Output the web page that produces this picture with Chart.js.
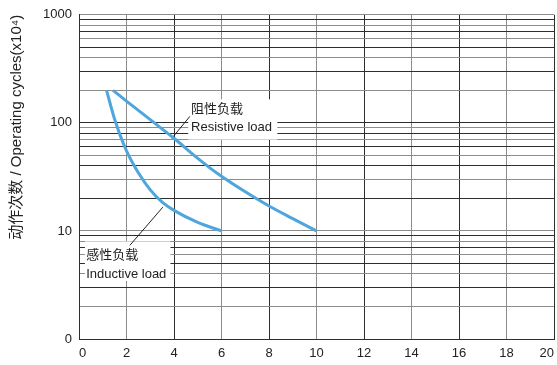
<!DOCTYPE html>
<html>
<head>
<meta charset="utf-8">
<script src="https://cdn.jsdelivr.net/npm/chart.js@4.4.1/dist/chart.umd.min.js"></script>
<style>
  html, body { margin: 0; padding: 0; background: #fff; }
  #wrap { width: 557px; height: 365px; }
</style>
</head>
<body>
<div id="wrap"><canvas id="lifeChart" width="557" height="365"></canvas></div>
<script>
// Electrical life curves
const resistiveX = [1.43, 2, 3, 4, 5, 6, 7, 8, 9, 10];
const resistiveY = [200, 159, 107, 72, 47, 32, 23, 17, 13, 10];
const inductiveX = [1.16, 1.5, 2, 2.5, 3, 3.5, 4, 5, 6];
const inductiveY = [200, 108, 55, 34.5, 24, 18.5, 15.5, 12, 10];

// axis ticks
const xTicks = [0, 2, 4, 6, 8, 10, 12, 14, 16, 18, 20];
const yGrid = [1, 2, 3, 4, 5, 6, 7, 8, 9, 10, 20, 30, 40, 50, 60, 70, 80, 90,
               100, 200, 300, 400, 500, 600, 700, 800, 900, 1000];
const yMajor = [1, 10, 100, 1000];
const yMajorText = ['0', '10', '100', '1000'];

const yTitle = '动作次数 / Operating cycles(x10⁴)';
const resistiveText = ['阻性负载', 'Resistive load'];
const inductiveText = ['感性负载', 'Inductive load'];

const FONT = "'Liberation Sans', Arial, 'Noto Sans CJK SC', sans-serif";
const LINE = '#4ea6dc';

function pairs(xs, ys) {
    return xs.map((x, i) => ({ x: x, y: ys[i] }));
}

// label boxes and leader lines, placed in data units
const notes = [
    { text: resistiveText, box: { x0: 4.6, x1: 8.35, yTop: 165, yBot: 70 },
      textX: 4.72, textY: [132, 90], leader: { x0: 3.91, y0: 72, x1: 4.67, y1: 115 } },
    { text: inductiveText, box: { x0: 0.25, x1: 3.85, yTop: 8.0, yBot: 3.45 },
      textX: 0.3, textY: [5.9, 4.0], leader: { x0: 3.53, y0: 16.6, x1: 2.14, y1: 7.35 } }
];

const notePlugin = {
    id: 'notes',
    beforeDatasetsDraw(chart) {
        const ctx = chart.ctx;
        const xs = chart.scales.x, ys = chart.scales.y;
        ctx.save();
        notes.forEach(n => {
            const l = xs.getPixelForValue(n.box.x0), r = xs.getPixelForValue(n.box.x1);
            const t = ys.getPixelForValue(n.box.yTop), b = ys.getPixelForValue(n.box.yBot);
            ctx.fillStyle = '#fff';
            ctx.fillRect(l, t, r - l, b - t);
            ctx.fillStyle = '#222';
            ctx.font = '13px ' + FONT;
            ctx.textBaseline = 'middle';
            ctx.textAlign = 'left';
            n.text.forEach((s, i) => {
                ctx.fillText(s, xs.getPixelForValue(n.textX), ys.getPixelForValue(n.textY[i]));
            });
            ctx.strokeStyle = '#222';
            ctx.lineWidth = 1;
            ctx.beginPath();
            ctx.moveTo(xs.getPixelForValue(n.leader.x0), ys.getPixelForValue(n.leader.y0));
            ctx.lineTo(xs.getPixelForValue(n.leader.x1), ys.getPixelForValue(n.leader.y1));
            ctx.stroke();
        });
        ctx.restore();
    }
};

function gridColor(c) {
    return c.index % 2 ? '#8c8c8c' : '#2e2e2e';
}

new Chart(document.getElementById('lifeChart'), {
    type: 'line',
    data: {
        datasets: [
            { label: 'Resistive load', data: pairs(resistiveX, resistiveY),
              borderColor: LINE, borderWidth: 3, pointRadius: 0, fill: false,
              cubicInterpolationMode: 'monotone' },
            { label: 'Inductive load', data: pairs(inductiveX, inductiveY),
              borderColor: LINE, borderWidth: 3, pointRadius: 0, fill: false,
              cubicInterpolationMode: 'monotone' }
        ]
    },
    options: {
        responsive: false,
        animation: false,
        devicePixelRatio: 1,
        layout: { padding: { top: 14, right: 3, left: 0, bottom: 0 } },
        plugins: { legend: { display: false }, tooltip: { enabled: false } },
        scales: {
            x: {
                type: 'linear', min: 0, max: 20,
                afterBuildTicks: s => { s.ticks = xTicks.map(v => ({ value: v })); },
                afterFit: s => { s.height = 26; s.paddingRight = 0; },
                grid: { color: gridColor, lineWidth: 1, drawTicks: false },
                border: { color: '#2e2e2e' },
                ticks: { align: 'inner', padding: 7, color: '#222', autoSkip: false, maxRotation: 0,
                         font: { family: FONT, size: 13 } }
            },
            y: {
                type: 'logarithmic', min: 1, max: 1000,
                afterBuildTicks: s => { s.ticks = yGrid.map(v => ({ value: v })); },
                afterFit: s => { s.width = 79; },
                grid: { color: gridColor, lineWidth: 1, drawTicks: false },
                border: { color: '#2e2e2e' },
                ticks: {
                    padding: 7, color: '#222', autoSkip: false,
                    font: { family: FONT, size: 13 },
                    callback: v => {
                        const i = yMajor.indexOf(v);
                        return i >= 0 ? yMajorText[i] : '';
                    }
                },
                title: { display: true, text: yTitle, align: 'end', color: '#222',
                         padding: { top: 8, bottom: 0 }, font: { family: FONT, size: 15 } }
            }
        }
    },
    plugins: [notePlugin]
});
</script>
</body>
</html>
